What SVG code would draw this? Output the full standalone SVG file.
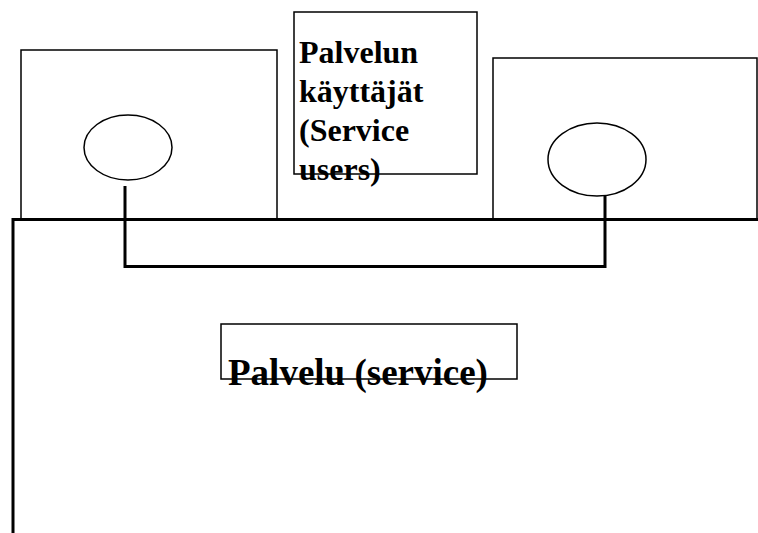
<svg xmlns="http://www.w3.org/2000/svg" width="758" height="533" viewBox="0 0 758 533">
<style>
.box{fill:none;stroke:#000;stroke-width:1.5}
.ell{fill:none;stroke:#000;stroke-width:1.5}
.thick{fill:none;stroke:#000;stroke-width:3}
.lbl{font-family:"Liberation Serif","Times New Roman",serif;font-weight:bold;fill:#000}
</style>
<rect width="758" height="533" fill="#fff"/>
<g id="left-node">
<rect class="box" x="21" y="50" width="256" height="169"/>
<ellipse class="ell" cx="128" cy="147.5" rx="44" ry="32.5"/>
</g>
<g id="right-node">
<rect class="box" x="493" y="58" width="264" height="161"/>
<ellipse class="ell" cx="597" cy="159.5" rx="49" ry="36.5"/>
</g>
<g id="users-label">
<rect class="box" x="294" y="12" width="183" height="162"/>
<text class="lbl" font-size="32" x="299" y="63">Palvelun</text>
<text class="lbl" font-size="32" x="299" y="102">käyttäjät</text>
<text class="lbl" font-size="32" x="299" y="141">(Service</text>
<text class="lbl" font-size="32" x="299" y="180">users)</text>
</g>
<g id="service-label">
<rect class="box" x="221" y="324" width="296" height="55"/>
<text class="lbl" font-size="37" x="228" y="385">Palvelu (service)</text>
</g>
<g id="connectors">
<path class="thick" d="M758 219.5 H13 V533"/>
<path class="thick" d="M125 186 V266.5 H605 V196"/>
</g>
</svg>
